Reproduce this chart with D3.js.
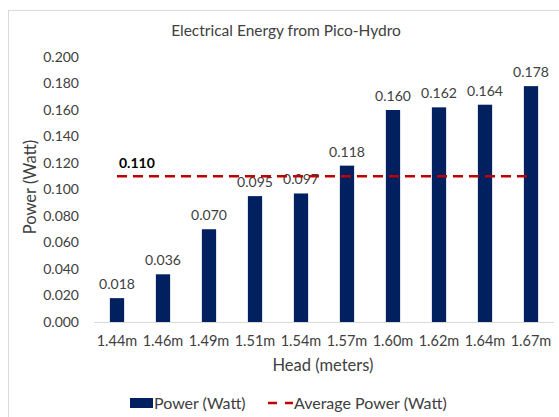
<!DOCTYPE html>
<html>
<head>
<meta charset="utf-8">
<script src="https://cdn.jsdelivr.net/npm/d3@7"></script>
<style>
  body { margin: 0; background: #fff; }
  text { font-family: Lato, "Open Sans", sans-serif; fill: #404040; }
</style>
</head>
<body>
<svg id="chart" width="559" height="417"></svg>
<script>
var heads = ["1.44m", "1.46m", "1.49m", "1.51m", "1.54m", "1.57m", "1.60m", "1.62m", "1.64m", "1.67m"],
    power = [0.018, 0.036, 0.070, 0.095, 0.097, 0.118, 0.160, 0.162, 0.164, 0.178],
    averagePower = 0.110,
    yTicks = [0, 0.02, 0.04, 0.06, 0.08, 0.10, 0.12, 0.14, 0.16, 0.18, 0.20];

var svg = d3.select("#chart");

// outer chart frame
svg.append("rect")
  .attr("x", 8.5).attr("y", 10.5)
  .attr("width", 570).attr("height", 430)
  .attr("fill", "none")
  .attr("stroke", "#d9d9d9");

var x = d3.scaleBand().domain(heads).range([94, 554]).paddingInner(0.69).paddingOuter(0.345);
var y = d3.scaleLinear().domain([0, 0.2]).range([322, 57]);

// y axis labels (no line)
var yAxis = svg.append("g")
  .attr("transform", "translate(94,0)")
  .call(d3.axisLeft(y).tickValues(yTicks).tickFormat(d3.format(".3f")).tickSize(0).tickPadding(15));
yAxis.select(".domain").remove();
yAxis.selectAll("text").attr("font-size", 14).attr("font-family", "Lato, sans-serif").attr("fill", "#404040");

// bars
svg.selectAll(".bar")
  .data(power)
  .enter().append("rect")
  .attr("class", "bar")
  .attr("x", (d, i) => x(heads[i]))
  .attr("y", d => y(d))
  .attr("width", x.bandwidth())
  .attr("height", d => y(0) - y(d))
  .attr("fill", "#002060");

// x axis
var xAxis = svg.append("g")
  .attr("transform", "translate(0,322)")
  .call(d3.axisBottom(x).tickSize(0).tickPadding(14));
xAxis.select(".domain").attr("stroke", "#d9d9d9").attr("d", "M94,0.5H554");
xAxis.selectAll("text").attr("font-size", 14.5).attr("font-family", "Lato, sans-serif").attr("fill", "#404040");

// bar value labels
svg.selectAll(".val")
  .data(power)
  .enter().append("text")
  .attr("class", "val")
  .attr("x", (d, i) => x(heads[i]) + x.bandwidth() / 2)
  .attr("y", d => y(d) - 9)
  .attr("text-anchor", "middle")
  .attr("font-size", 14)
  .text(d => d3.format(".3f")(d));

// average line
var avgLine = d3.line()
  .x(d => x(d) + x.bandwidth() / 2)
  .y(() => y(averagePower));
svg.append("path")
  .datum([heads[0], heads[heads.length - 1]])
  .attr("d", avgLine)
  .attr("stroke", "#c00000")
  .attr("stroke-width", 2.5)
  .attr("stroke-dasharray", "10,6")
  .attr("fill", "none");

svg.append("text")
  .attr("x", x(heads[0]) + x.bandwidth() / 2 + 2)
  .attr("y", y(averagePower) - 8)
  .attr("font-size", 14)
  .attr("font-weight", "bold")
  .style("fill", "#000")
  .text(d3.format(".3f")(averagePower));

// title
svg.append("text")
  .attr("x", 286).attr("y", 36)
  .attr("text-anchor", "middle")
  .attr("font-size", 15.5)
  .text("Electrical Energy from Pico-Hydro");

// axis titles
svg.append("text")
  .attr("x", 323).attr("y", 371)
  .attr("text-anchor", "middle")
  .attr("font-size", 16.5)
  .text("Head (meters)");

svg.append("text")
  .attr("transform", "translate(36,187) rotate(-90)")
  .attr("text-anchor", "middle")
  .attr("font-size", 16.5)
  .text("Power (Watt)");

// legend
svg.append("rect")
  .attr("x", 130).attr("y", 398)
  .attr("width", 23).attr("height", 10)
  .attr("fill", "#002060");
svg.append("text")
  .attr("x", 154).attr("y", 409)
  .attr("font-size", 16)
  .text("Power (Watt)");
svg.append("path")
  .attr("d", "M268,403H293")
  .attr("stroke", "#c00000")
  .attr("stroke-width", 2.5)
  .attr("stroke-dasharray", "9,8");
svg.append("text")
  .attr("x", 294).attr("y", 409)
  .attr("font-size", 16)
  .text("Average Power (Watt)");
</script>
</body>
</html>
